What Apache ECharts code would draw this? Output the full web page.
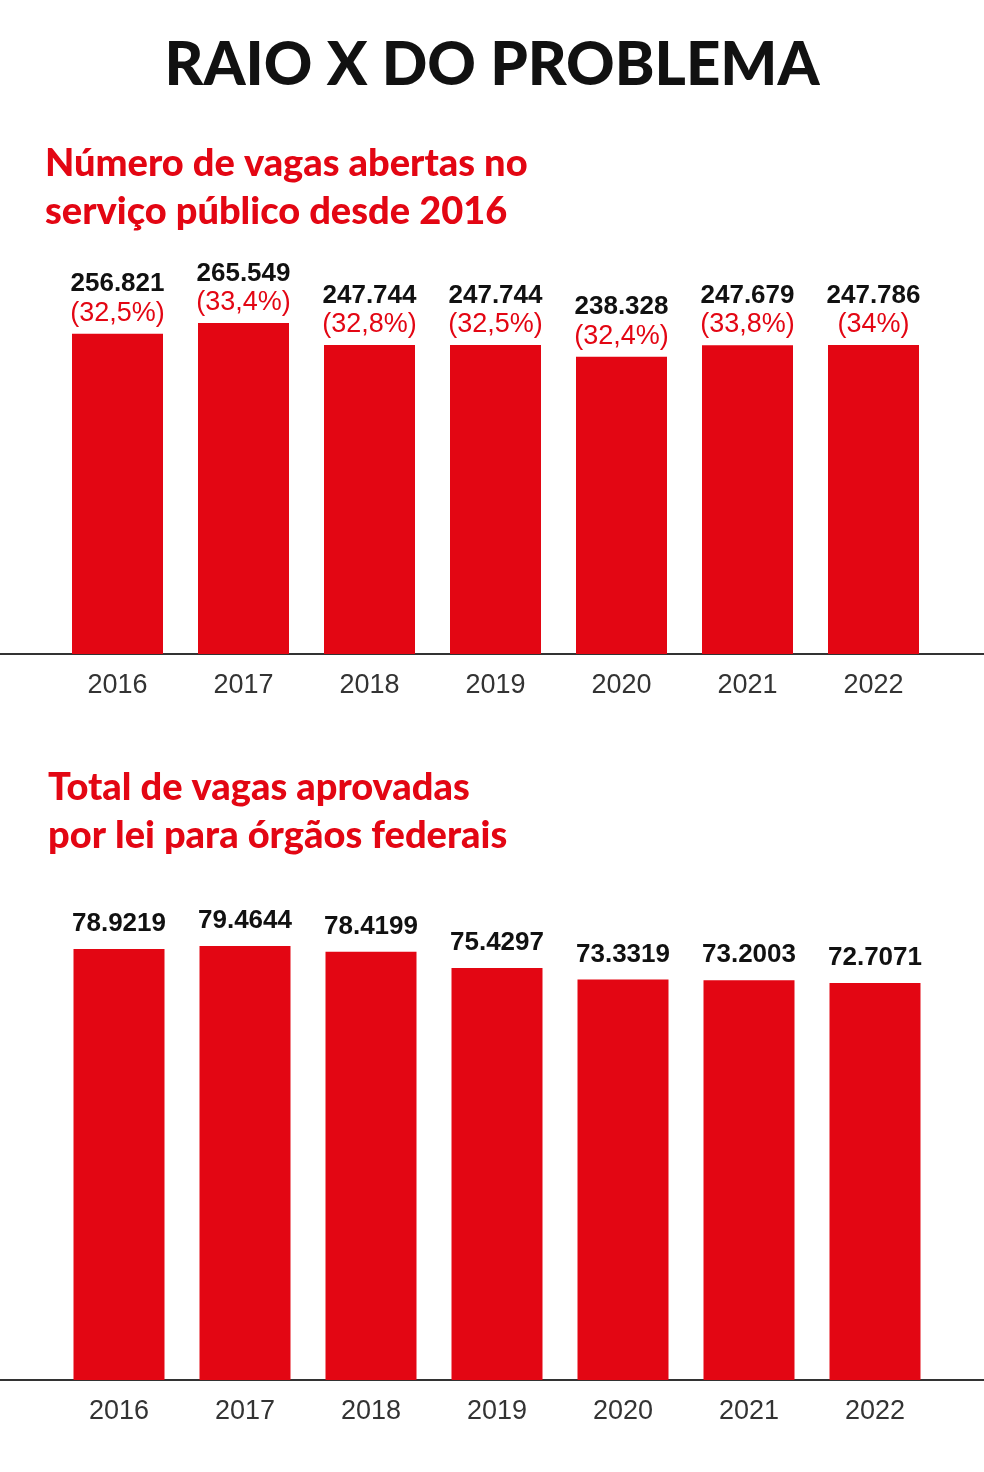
<!DOCTYPE html>
<html>
<head>
<meta charset="utf-8">
<script src="https://cdn.jsdelivr.net/npm/echarts@6/dist/echarts.min.js"></script>
<style>html,body{margin:0;padding:0;background:#fff}#main{width:984px;height:1472px}</style>
</head>
<body>
<div id="main"></div>
<script>
var years = ['2016', '2017', '2018', '2019', '2020', '2021', '2022'];
var abertas = [256821, 265549, 247744, 247744, 238328, 247679, 247786];
var abertasTxt = ['256.821', '265.549', '247.744', '247.744', '238.328', '247.679', '247.786'];
var abertasPct = ['32,5%', '33,4%', '32,8%', '32,5%', '32,4%', '33,8%', '34%'];
var aprovadas = [78.9219, 79.4644, 78.4199, 75.4297, 73.3319, 73.2003, 72.7071];

var RED = '#e30613';
var chart = echarts.init(document.getElementById('main'));

function xAxis(i) {
  return {
    type: 'category', gridIndex: i, data: years,
    axisLine: { show: false }, axisTick: { show: false },
    axisLabel: { fontFamily: 'Liberation Sans', fontSize: 27, color: '#333', margin: 18 }
  };
}
function yAxis(i, max) {
  return { type: 'value', gridIndex: i, min: 0, max: max, show: false, splitLine: { show: false } };
}

chart.setOption({
  animation: false,
  grid: [
    { left: 54.5, width: 882, top: 300, height: 354 },
    { left: 56, width: 882, top: 900, height: 480 }
  ],
  xAxis: [xAxis(0), xAxis(1)],
  yAxis: [yAxis(0, 283900), yAxis(1, 87.9)],
  graphic: [
    { type: 'text', left: 'center', top: 36, style: { text: 'RAIO X DO PROBLEMA', font: '900 60px Lato', fill: '#111' } },
    { type: 'text', left: 45, top: 140, style: { text: 'Número de vagas abertas no\nserviço público desde 2016', font: '900 38px Lato', fill: RED, lineHeight: 48 } },
    { type: 'text', left: 48, top: 764, style: { text: 'Total de vagas aprovadas\npor lei para órgãos federais', font: '900 38px Lato', fill: RED, lineHeight: 48 } },
    { type: 'line', shape: { x1: 0, y1: 654, x2: 984, y2: 654 }, style: { stroke: '#333', lineWidth: 2 } },
    { type: 'line', shape: { x1: 0, y1: 1380, x2: 984, y2: 1380 }, style: { stroke: '#333', lineWidth: 2 } }
  ],
  series: [
    {
      type: 'bar', xAxisIndex: 0, yAxisIndex: 0, data: abertas, barWidth: 91,
      itemStyle: { color: RED },
      label: {
        show: true, position: 'top', distance: 6,
        formatter: function (p) { return '{v|' + abertasTxt[p.dataIndex] + '}\n{p|(' + abertasPct[p.dataIndex] + ')}'; },
        rich: {
          v: { fontFamily: 'Liberation Sans', fontWeight: 'bold', fontSize: 26, color: '#111', lineHeight: 29 },
          p: { fontFamily: 'Liberation Sans', fontSize: 27, color: RED, lineHeight: 29 }
        }
      }
    },
    {
      type: 'bar', xAxisIndex: 1, yAxisIndex: 1, data: aprovadas, barWidth: 91,
      itemStyle: { color: RED },
      label: {
        show: true, position: 'top', distance: 12,
        formatter: function (p) { return p.value.toFixed(4); },
        fontFamily: 'Liberation Sans', fontWeight: 'bold', fontSize: 26, color: '#111'
      }
    }
  ]
});
</script>
</body>
</html>
